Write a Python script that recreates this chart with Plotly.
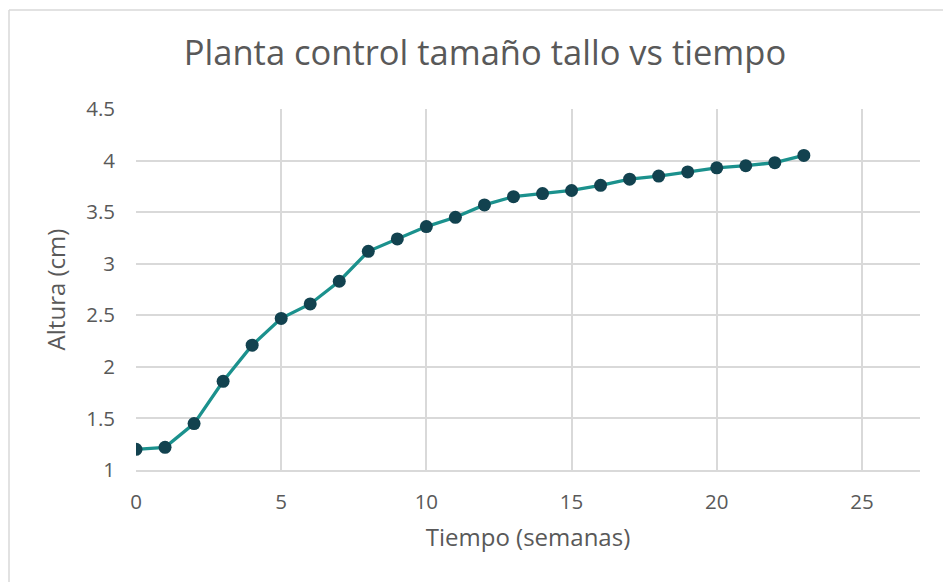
import plotly.graph_objects as go

semanas = list(range(0, 24))
altura = [1.20, 1.22, 1.45, 1.86, 2.21, 2.47, 2.61, 2.83, 3.12, 3.24, 3.36, 3.45,
          3.57, 3.65, 3.68, 3.71, 3.76, 3.82, 3.85, 3.89, 3.93, 3.95, 3.98, 4.05]
x_ticks = [0, 5, 10, 15, 20, 25]
y_ticks = [1, 1.5, 2, 2.5, 3, 3.5, 4, 4.5]

# page body has an 8px margin; figure coordinates are offset by it
OFF = 8
W, H = 951 - OFF, 582 - OFF
L, R, T, B = 136 - OFF, 31, 109 - OFF, 112
pw, ph = W - L - R, H - T - B

fig = go.Figure()
fig.add_trace(go.Scatter(
    x=semanas, y=altura, mode="lines+markers",
    line=dict(color="#1b918d", width=3.3),
    marker=dict(color="#12424f", size=13),
    showlegend=False,
))

font = "Open Sans, Liberation Sans, sans-serif"
grey = "#595959"
fig.update_layout(
    width=W, height=H,
    margin=dict(l=L, r=R, t=T, b=B),
    paper_bgcolor="white", plot_bgcolor="white",
    font=dict(family=font, color=grey),
    title=dict(text="Planta control tamaño tallo vs tiempo", x=(485 - OFF) / W, xanchor="center",
               y=1 - (53 - OFF) / H, yanchor="middle",
               font=dict(size=34.5, color=grey, family=font)),
    xaxis=dict(range=[0, 27], tickvals=x_ticks, showgrid=True, gridcolor="#d9d9d9",
               gridwidth=1.5, zeroline=False, showline=True, linecolor="#d9d9d9",
               linewidth=1.5, ticks="", tickfont=dict(size=20.5, color=grey),
               ticklabelstandoff=13,
               title=dict(text="Tiempo (semanas)", font=dict(size=24, color=grey),
                          standoff=15)),
    yaxis=dict(range=[1, 4.5], tickvals=y_ticks, showgrid=True, gridcolor="#d9d9d9",
               gridwidth=1.5, zeroline=False, showline=False, ticks="",
               tickfont=dict(size=20.5, color=grey), ticklabelstandoff=20,
               title=dict(text="Altura (cm)", font=dict(size=24, color=grey),
                          standoff=13)),
)

# chart area border (top and left edges visible)
fig.add_shape(type="line", xref="paper", yref="paper",
              x0=(1 - L) / pw, x1=(W + 5 - L) / pw,
              y0=(H - B - (10 - OFF)) / ph, y1=(H - B - (10 - OFF)) / ph,
              line=dict(color="#d9d9d9", width=1.5))
fig.add_shape(type="line", xref="paper", yref="paper",
              x0=(1 - L) / pw, x1=(1 - L) / pw,
              y0=(H - B - (10 - OFF)) / ph, y1=-(B + 10) / ph,
              line=dict(color="#d9d9d9", width=1.5))

fig.write_html("out.html")
